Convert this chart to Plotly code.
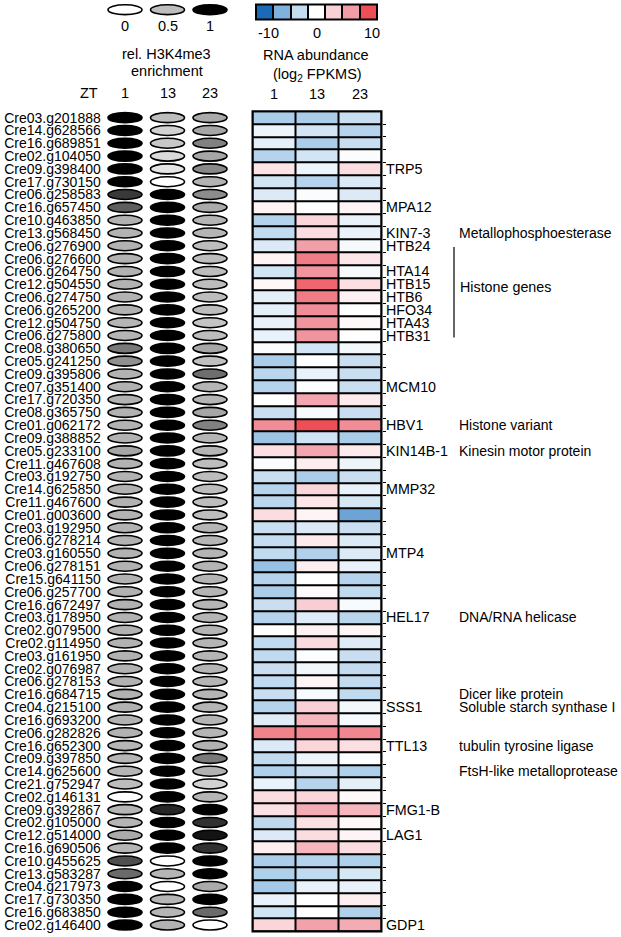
import plotly.graph_objects as go
from plotly.colors import sample_colorscale

W, H = 621, 937
FONT = "Arial, Liberation Sans, Helvetica, sans-serif"

# ---------------- data ----------------
genes = [
    "Cre03.g201888", "Cre14.g628566", "Cre16.g689851", "Cre02.g104050", "Cre09.g398400",
    "Cre17.g730150", "Cre06.g258583", "Cre16.g657450", "Cre10.g463850", "Cre13.g568450",
    "Cre06.g276900", "Cre06.g276600", "Cre06.g264750", "Cre12.g504550", "Cre06.g274750",
    "Cre06.g265200", "Cre12.g504750", "Cre06.g275800", "Cre08.g380650", "Cre05.g241250",
    "Cre09.g395806", "Cre07.g351400", "Cre17.g720350", "Cre08.g365750", "Cre01.g062172",
    "Cre09.g388852", "Cre05.g233100", "Cre11.g467608", "Cre03.g192750", "Cre14.g625850",
    "Cre11.g467600", "Cre01.g003600", "Cre03.g192950", "Cre06.g278214", "Cre03.g160550",
    "Cre06.g278151", "Cre15.g641150", "Cre06.g257700", "Cre16.g672497", "Cre03.g178950",
    "Cre02.g079500", "Cre02.g114950", "Cre03.g161950", "Cre02.g076987", "Cre06.g278153",
    "Cre16.g684715", "Cre04.g215100", "Cre16.g693200", "Cre06.g282826", "Cre16.g652300",
    "Cre09.g397850", "Cre14.g625600", "Cre21.g752947", "Cre02.g146131", "Cre09.g392867",
    "Cre02.g105000", "Cre12.g514000", "Cre16.g690506", "Cre10.g455625", "Cre13.g583287",
    "Cre04.g217973", "Cre17.g730350", "Cre16.g683850", "Cre02.g146400",
]
zt_labels = ["1", "13", "23"]

# relative H3K4me3 enrichment (0..1)
h3k4_zt1 = [1, 1, 1, 1, 1, 1, 0.85, 0.75, 0.53, 0.53,
            0.53, 0.53, 0.53, 0.53, 0.53, 0.53, 0.52, 0.52, 0.68, 0.62,
            0.53, 0.53, 0.53, 0.53, 0.53, 0.53, 0.56, 0.53, 0.53, 0.53,
            0.53, 0.53, 0.53, 0.53, 0.53, 0.53, 0.53, 0.53, 0.53, 0.53,
            0.53, 0.53, 0.53, 0.53, 0.53, 0.53, 0.53, 0.53, 0.53, 0.52,
            0.52, 0.52, 0.50, 0.00, 0.52, 0.52, 0.55, 0.52, 0.79, 0.72,
            1, 1, 1, 1]
h3k4_zt13 = [0.5, 0.35, 0.42, 0.28, 0.2, 0, 1, 1, 1, 1,
             1, 1, 1, 1, 1, 1, 1, 1, 1, 1,
             1, 1, 1, 1, 1, 1, 1, 1, 1, 1,
             1, 1, 1, 1, 1, 1, 1, 1, 1, 1,
             1, 1, 1, 1, 1, 1, 1, 1, 1, 1,
             1, 1, 1, 1, 0.9, 1, 1, 1, 0, 0.52,
             0, 0.52, 0.52, 0.53]
h3k4_zt23 = [0.55, 0.56, 0.66, 0.56, 0.64, 0.53, 0.63, 0.55, 0.52, 0.52,
             0.5, 0.5, 0.5, 0.5, 0.5, 0.5, 0.45, 0.5, 0.56, 0.48,
             0.71, 0.52, 0.52, 0.56, 0.66, 0.52, 0.52, 0.5, 0.5, 0.5,
             0.5, 0.5, 0.52, 0.52, 0.52, 0.52, 0.52, 0.52, 0.52, 0.52,
             0.52, 0.52, 0.52, 0.52, 0.52, 0.52, 0.52, 0.52, 0.52, 0.53,
             0.68, 0.53, 0.35, 0.52, 1, 0.87, 0.95, 0.87, 1, 1,
             0.55, 1, 0.72, 0]

# RNA abundance (log2 FPKMS)
rna_zt1 = [-4.5, -1, -1.5, -4, 2, -2.5, -2, 0.8, -4, -3.5,
           -2, 0.8, -2.5, 0.5, -1.5, -1.5, -1.2, -1.2, -0.3, -4.5,
           -3.8, -4, 0, -3, 7.3, -5.2, 2.3, -0.3, -3, -4,
           -3.8, 2.4, -3, -3.2, -3.5, -5.5, -4, -4.6, -3, -4,
           0, -3.5, -3.5, -3, -3.5, -3, -4, -1.8, 7.8, -2,
           -3.5, -4.3, -1.2, 2.5, 2.2, -3.6, -2, 1.2, -4.5, -4.3,
           -4.8, -1.2, -2.7, 3]
rna_zt13 = [-4.5, -2.5, -4.5, -2.5, -1, -4, -0.3, 0, 3, 2.5,
            6.5, 8, 7, 9, 8, 7.3, 7, 7, -2.5, 0,
            -1.2, -0.2, 6, -0.4, 10, -2.7, 6, 1.3, -4.5, 3,
            1.8, 0.8, -2, 1.5, -4.2, 1.2, 0, 0.4, 3.5, -1.8,
            1, 2.6, -0.2, -0.8, 0.7, -0.4, 3.3, 5, 7.6, 3,
            -1, -3, -4, 3, 5.7, 2.2, 2.5, 5, -4, -3.5,
            -1.2, 0, 0, 6.3]
rna_zt23 = [-3, -4, -3, -0.3, 2.5, -2, -2, 0.8, -1.2, -1.2,
            -0.5, 1.8, -0.5, 2.3, 1, 0, 0.5, 0, -0.7, -3,
            -3, -3, 1.5, -3, 7.3, -4.6, 1.5, -1, -3, -1.2,
            -2.2, -7.3, -3, -2, -2, -1.2, -4, -3.5, -0.4, -3.8,
            0.7, -1.8, -3, -3.4, -3.4, -3.5, -0.8, -0.5, 7.6, 2.3,
            -0.2, -4.3, -1.5, 0.5, 5, 0.5, 0.8, 2.5, -4.3, -2.2,
            -1.2, 1.2, -4.2, 5.7]

name_rows = [4, 7, 9, 10, 12, 13, 14, 15, 16, 17, 21, 24, 26, 29, 34, 39, 46, 49, 54, 56, 63]
name_labels = ["TRP5", "MPA12", "KIN7-3", "HTB24", "HTA14", "HTB15", "HTB6", "HFO34", "HTA43",
               "HTB31", "MCM10", "HBV1", "KIN14B-1", "MMP32", "MTP4", "HEL17", "SSS1", "TTL13",
               "FMG1-B", "LAG1", "GDP1"]
func_rows = [9, 24, 26, 39, 45, 46, 49, 51]
func_labels = ["Metallophosphoesterase", "Histone variant", "Kinesin motor protein",
               "DNA/RNA helicase", "Dicer like protein", "Soluble starch synthase I",
               "tubulin tyrosine ligase", "FtsH-like metalloprotease"]
histone_rows = [10, 17]
histone_label = "Histone genes"

enrich_legend_vals = [0, 0.5, 1]
enrich_legend_text = ["0", "0.5", "1"]
rna_legend_vals = [-10, -6.67, -3.33, 0, 3.33, 6.67, 10]
rna_legend_text = ["-10", "0", "10"]

# ---------------- styles ----------------
GRAY_SCALE = [[0, "#ffffff"], [0.5, "#bdbdbd"], [1, "#000000"]]
HEAT_SCALE = [[0, "#1a6ab8"], [1 / 6, "#7fb1dd"], [2 / 6, "#c3dcf0"], [0.5, "#ffffff"],
              [4 / 6, "#f9d0d6"], [5 / 6, "#f19ca6"], [1, "#ee4f56"]]

n = len(genes)
Y_TOP_PX, Y_BOT_PX = 109.6, 932.4
ydom = [1 - Y_BOT_PX / H, 1 - Y_TOP_PX / H]
ell_dom = [103.75 / W, 231.25 / W]
heat_dom = [252.5 / W, 381.5 / W]


def px(x):
    return x / W


def py(y):
    return 1 - y / H


fig = go.Figure()

z = [[rna_zt1[i], rna_zt13[i], rna_zt23[i]] for i in range(n)]
fig.add_trace(go.Heatmap(
    z=z, x=[0, 1, 2], y=list(range(n)), xaxis="x2", yaxis="y2",
    colorscale=HEAT_SCALE, zmin=-10, zmax=10, showscale=False,
    xgap=2, ygap=2, hoverinfo="skip"))

fig.add_trace(go.Heatmap(
    z=[rna_legend_vals], x=list(range(len(rna_legend_vals))), y=[0],
    xaxis="x3", yaxis="y3", colorscale=HEAT_SCALE, zmin=-10, zmax=10,
    showscale=False, xgap=2, ygap=0, hoverinfo="skip"))

# invisible trace to establish ellipse axes
fig.add_trace(go.Scatter(x=[0, 1, 2], y=[0, 0, 0], xaxis="x", yaxis="y",
                         mode="markers", marker=dict(opacity=0), hoverinfo="skip",
                         showlegend=False))

shapes = []
# black backgrounds/borders for heatmaps
shapes.append(dict(type="rect", xref="x2 domain", yref="y2 domain", x0=0, x1=1, y0=0, y1=1,
                   fillcolor="black", line=dict(width=0), layer="below"))
shapes.append(dict(type="rect", xref="x2 domain", yref="y2 domain", x0=0, x1=1, y0=0, y1=1,
                   fillcolor="rgba(0,0,0,0)", line=dict(color="black", width=2)))
shapes.append(dict(type="rect", xref="x3 domain", yref="y3 domain", x0=0, x1=1, y0=0, y1=1,
                   fillcolor="black", line=dict(width=0), layer="below"))
shapes.append(dict(type="rect", xref="x3 domain", yref="y3 domain", x0=0, x1=1, y0=0, y1=1,
                   fillcolor="rgba(0,0,0,0)", line=dict(color="black", width=2)))

# enrichment ellipses
cols = [h3k4_zt1, h3k4_zt13, h3k4_zt23]
for j, col in enumerate(cols):
    colors = sample_colorscale(GRAY_SCALE, col)
    for i, c in enumerate(colors):
        shapes.append(dict(type="circle", xref="x", yref="y",
                           x0=j - 0.4, x1=j + 0.4, y0=i - 0.39, y1=i + 0.39,
                           fillcolor=c, line=dict(color="black", width=1.6)))
# enrichment legend ellipses
for j, v in enumerate(enrich_legend_vals):
    c = sample_colorscale(GRAY_SCALE, [v])[0]
    shapes.append(dict(type="circle", xref="x", yref="paper",
                       x0=j - 0.4, x1=j + 0.4, y0=py(12.7), y1=py(2.7),
                       fillcolor=c, line=dict(color="black", width=1.6)))
# histone bracket line
shapes.append(dict(type="line", xref="paper", yref="y", x0=px(454), x1=px(454),
                   y0=histone_rows[0] + 0.1, y1=histone_rows[1] + 0.15,
                   line=dict(color="#333333", width=1.5)))

ann = []


def text(t, x, y, xanchor="center", size=14.5):
    ann.append(dict(text=t, x=px(x), y=py(y), xref="paper", yref="paper",
                    xanchor=xanchor, yanchor="middle", showarrow=False,
                    font=dict(family=FONT, size=size, color="black")))


for j, t in enumerate(enrich_legend_text):
    ann.append(dict(text=t, x=j, y=py(24), xref="x", yref="paper", xanchor="center",
                    yanchor="middle", showarrow=False,
                    font=dict(family=FONT, size=14.5, color="black")))
text("rel. H3K4me3", 167, 52.5)
text("enrichment", 167, 69.5)
text("ZT", 100, 91, xanchor="right")
for j, t in enumerate(zt_labels):
    ann.append(dict(text=t, x=j, y=py(91), xref="x", yref="paper", xanchor="center",
                    yanchor="middle", showarrow=False,
                    font=dict(family=FONT, size=14.5, color="black")))
    ann.append(dict(text=t, x=j, y=py(92.5), xref="x2", yref="paper", xanchor="center",
                    yanchor="middle", showarrow=False,
                    font=dict(family=FONT, size=14.5, color="black")))
for t, x in zip(rna_legend_text, [268, 317, 372]):
    text(t, x, 31)
text("RNA abundance", 316, 53.5)
text("(log<sub>2</sub> FPKMS)", 317, 73)

for r, t in zip(name_rows, name_labels):
    ann.append(dict(text=t, x=px(384), y=r, xref="paper", yref="y", xanchor="left",
                    yanchor="middle", showarrow=False,
                    font=dict(family=FONT, size=14.3, color="black")))
for r, t in zip(func_rows, func_labels):
    ann.append(dict(text=t, x=px(457), y=r, xref="paper", yref="y", xanchor="left",
                    yanchor="middle", showarrow=False,
                    font=dict(family=FONT, size=14, color="black")))
ann.append(dict(text=histone_label, x=px(458), y=13.2, xref="paper", yref="y",
                xanchor="left", yanchor="middle", showarrow=False,
                font=dict(family=FONT, size=14.3, color="black")))

fig.update_layout(
    width=W, height=H, margin=dict(l=0, r=0, t=0, b=0),
    paper_bgcolor="white", plot_bgcolor="white", showlegend=False,
    shapes=shapes, annotations=ann,
    xaxis=dict(domain=ell_dom, range=[-0.5, 2.5], visible=False, anchor="y"),
    yaxis=dict(domain=ydom, range=[n - 0.5, -0.5], anchor="x",
               tickmode="array", tickvals=list(range(n)), ticktext=genes,
               ticks="", showgrid=False, zeroline=False, showline=False,
               ticklabelstandoff=2,
               tickfont=dict(family=FONT, size=14, color="black")),
    xaxis2=dict(domain=heat_dom, range=[-0.5, 2.5], visible=False, anchor="y2"),
    yaxis2=dict(domain=ydom, range=[n - 0.5, -0.5], anchor="x2", side="right",
                tickmode="array", tickvals=[i + 0.5 for i in range(n - 1)],
                ticks="outside", ticklen=3, tickwidth=1, tickcolor="black",
                showticklabels=False, showgrid=False, zeroline=False, showline=False),
    xaxis3=dict(domain=[256 / W, 377 / W], range=[-0.5, 6.5], visible=False, anchor="y3"),
    yaxis3=dict(domain=[py(17.5), py(2.5)], range=[-0.5, 0.5], visible=False, anchor="x3"),
)

fig.write_html("out.html", config={"displayModeBar": False},
               post_script="document.body.style.margin='0';document.body.style.overflow='hidden';")
